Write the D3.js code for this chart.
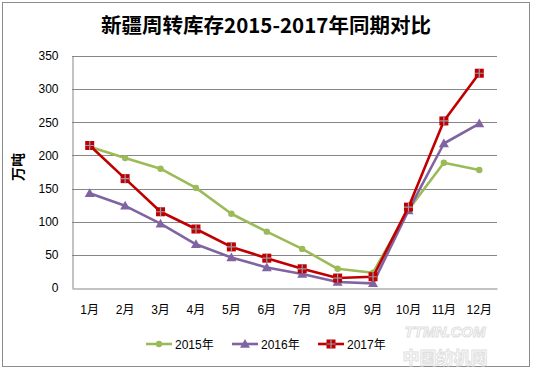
<!DOCTYPE html>
<html><head><meta charset="utf-8">
<script src="https://cdn.jsdelivr.net/npm/d3@7"></script>
<style>body{margin:0;background:#fff}svg{display:block}</style>
</head><body>
<svg id="c" width="533" height="370"></svg>
<script>
const months = ["1月","2月","3月","4月","5月","6月","7月","8月","9月","10月","11月","12月"];
const s2015 = [213,196,180,151,112,85,59,29,23,118,189,178];
const s2016 = [143,124,97,66,46,31,21,9,7,117,218,248];
const s2017 = [215,165,115,89,62,45,29,15,17,122,252,324];
const yTicks = [0,50,100,150,200,250,300,350];
const seriesNames = ["2015年","2016年","2017年"];
const colors = ["#9BBB59","#8064A2","#C00000"];
const title = "新疆周转库存2015-2017年同期对比";
const yLabel = "万吨";

const svg = d3.select("#c");
const font = "'Liberation Sans','Noto Sans CJK SC',sans-serif";
svg.append("rect").attr("x",2.5).attr("y",2.5).attr("width",527).attr("height",364)
  .attr("fill","#fff").attr("stroke","#8c8c8c").attr("stroke-width",1);

const L=72, R=497, T=56, B=288;
const x = d3.scaleBand().domain(months).range([L,R]);
const y = d3.scaleLinear().domain([0,350]).range([B,T]);

// gridlines
svg.append("g").selectAll("line").data(yTicks.filter(d=>d>0)).join("line")
  .attr("x1",L).attr("x2",R).attr("y1",d=>Math.round(y(d))+0.5).attr("y2",d=>Math.round(y(d))+0.5)
  .attr("stroke","#868686").attr("stroke-width",1);

// axes
const yAxis = svg.append("g").attr("transform",`translate(${L+0.5},0)`)
  .call(d3.axisLeft(y).tickValues(yTicks).tickSize(0).tickPadding(14));
yAxis.select(".domain").attr("stroke","#868686");
yAxis.selectAll("text").attr("font-family",font).attr("font-size",12).attr("fill","#000");

const xAxis = svg.append("g").attr("transform",`translate(0,${B+0.5})`)
  .call(d3.axisBottom(x).tickSize(0).tickPadding(17));
xAxis.select(".domain").attr("stroke","#868686");
xAxis.selectAll("text").attr("font-family",font).attr("font-size",12).attr("fill","#000");

// title
svg.append("text").attr("x",266).attr("y",33).attr("text-anchor","middle")
  .attr("font-family","'Noto Sans CJK SC',sans-serif").attr("font-weight","bold")
  .attr("font-size",20.5).attr("fill","#000").text(title);

// y label
svg.append("text").attr("transform","translate(23,167) rotate(-90)").attr("text-anchor","middle")
  .attr("font-family","'Noto Sans CJK SC',sans-serif").attr("font-weight","bold")
  .attr("font-size",14).attr("fill","#000").text(yLabel);

const data = [s2015,s2016,s2017];
const cx = (i)=> x(months[i]) + x.bandwidth()/2;
const line = d3.line().x((d,i)=>cx(i)).y(d=>y(d));

function marker(g, k, px, py){
  if(k===0){
    g.append("circle").attr("cx",px).attr("cy",py).attr("r",3.2).attr("fill",colors[0]);
  } else if(k===1){
    const s=5;
    g.append("path").attr("d",`M${px},${py-s}L${px+s},${py+s*0.75}L${px-s},${py+s*0.75}Z`).attr("fill",colors[1]);
  } else {
    const s=4.5;
    g.append("rect").attr("x",px-s).attr("y",py-s).attr("width",2*s).attr("height",2*s).attr("fill",colors[2]);
    g.append("path").attr("d",`M${px-s},${py}H${px+s}M${px},${py-s}V${py+s}`).attr("stroke","#9a9aa8").attr("stroke-width",1.2);
  }
}

data.forEach((d,k)=>{
  const g = svg.append("g");
  g.append("path").datum(d).attr("d",line).attr("fill","none").attr("stroke",colors[k])
    .attr("stroke-width",2.6).attr("stroke-linejoin","round");
  d.forEach((v,i)=>marker(g,k,cx(i),y(v)));
});

// legend
const legX = [146,232,318];
seriesNames.forEach((n,k)=>{
  const g = svg.append("g");
  const ly = 344;
  g.append("line").attr("x1",legX[k]).attr("x2",legX[k]+26).attr("y1",ly).attr("y2",ly)
    .attr("stroke",colors[k]).attr("stroke-width",2.6);
  marker(g,k,legX[k]+13,ly);
  g.append("text").attr("x",legX[k]+29).attr("y",ly+4.5).attr("font-family",font)
    .attr("font-size",12).attr("fill","#000").text(n);
});

// watermark
svg.append("text").attr("x",445).attr("y",337).attr("text-anchor","middle")
  .attr("font-family","'Liberation Sans',sans-serif").attr("font-weight","bold").attr("font-style","italic")
  .attr("font-size",15).attr("fill","#fff").attr("stroke","#e0e0e0").attr("stroke-width",1).text("TTMN.COM");
svg.append("text").attr("x",445).attr("y",364).attr("text-anchor","middle")
  .attr("font-family","'Noto Sans CJK SC',sans-serif").attr("font-weight","bold")
  .attr("font-size",17).attr("fill","#fff").attr("stroke","#e0e0e0").attr("stroke-width",1).text("中国纺机网");
</script>
</body></html>
